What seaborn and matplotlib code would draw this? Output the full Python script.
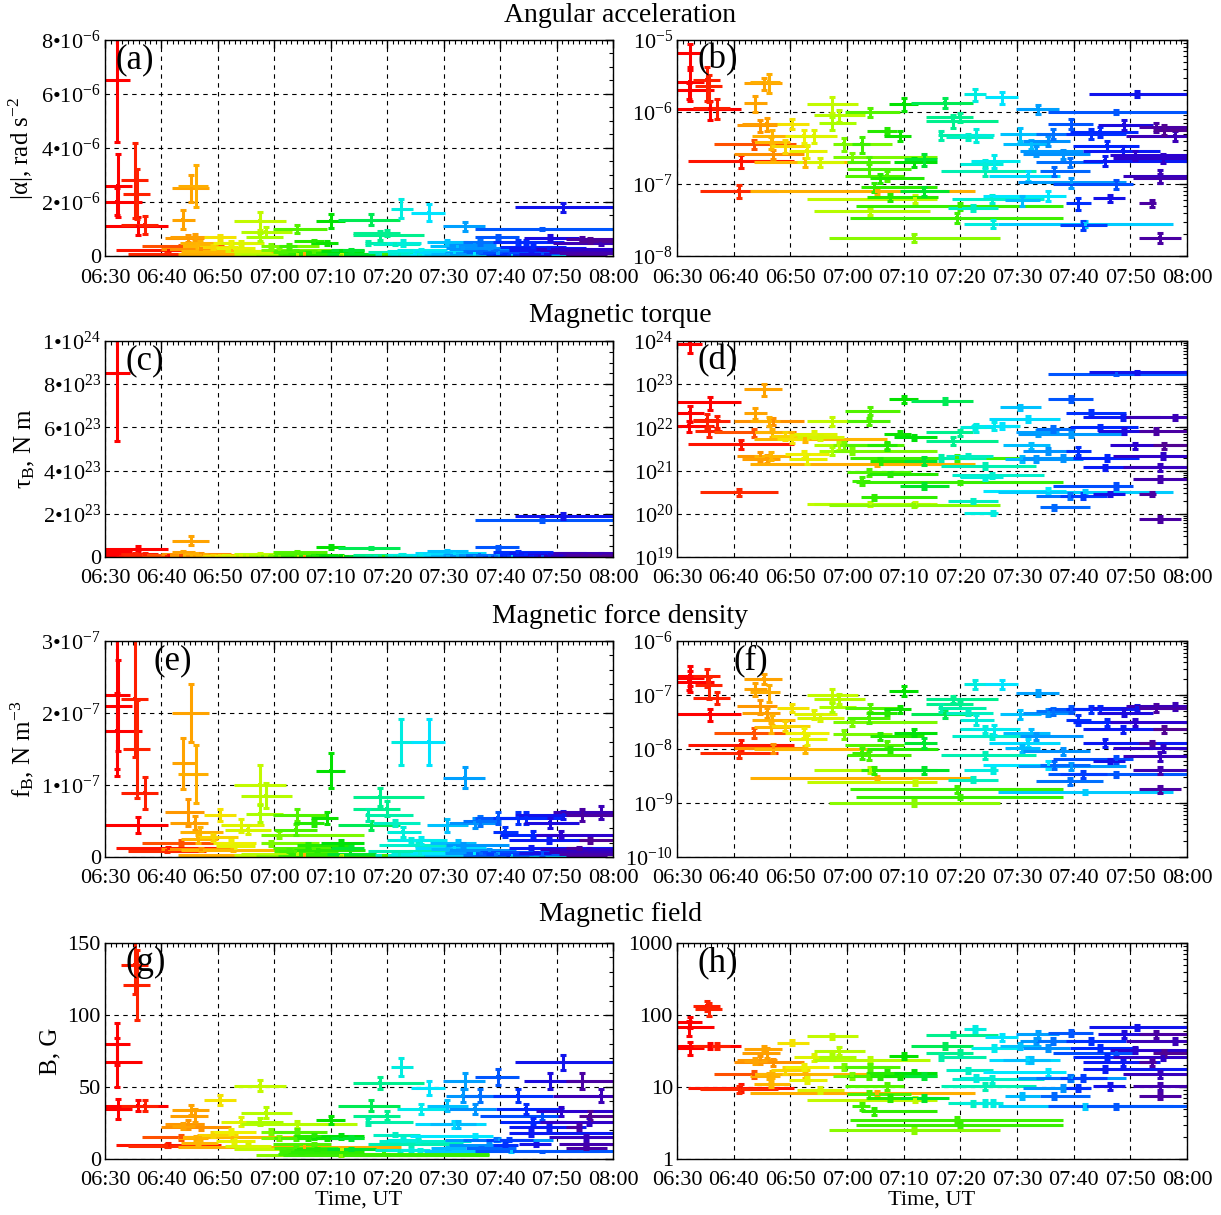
import numpy as np
import pandas as pd
import matplotlib
matplotlib.use("Agg")
import matplotlib.pyplot as plt
from matplotlib.colors import LinearSegmentedColormap
from matplotlib.ticker import (MultipleLocator, LogLocator, FuncFormatter,
                               NullFormatter, LogFormatterMathtext)
import seaborn as sns

# times in minutes after 06:30 UT: start / end of each interval and time of the estimate
t_start = [0, 0, 0, 0, 2.0, 2.9, 2.9, 3.2, 4.1, 6.5,
           10.0, 10.6, 11.5, 11.8, 11.8, 12.9, 12.9, 13.2, 13.5, 13.5,
           16.5, 17.6, 19.1, 19.7, 20.6, 21.2, 22.9, 22.9, 24.1, 24.1,
           25.0, 26.8, 27.6, 27.6, 29.7, 29.7, 30.0, 30.0, 30.6, 30.9,
           31.5, 32.4, 33.5, 33.5, 34.1, 36.5, 37.4, 38.2, 39.4, 40.0,
           41.2, 44.0, 44.0, 46.0, 46.6, 47.5, 47.8, 48.5, 49.9, 49.9,
           50.6, 50.6, 51.8, 54.0, 54.3, 55.0, 56.6, 57.0, 57.5, 57.8,
           59.9, 60.2, 60.5, 61.0, 61.0, 63.4, 63.4, 64.0, 65.5, 65.5,
           66.4, 67.5, 68.7, 68.7, 69.3, 69.9, 71.6, 71.6, 72.7, 73.4,
           74.3, 76.4, 77.0, 78.7, 79.3, 80.5, 81.6, 81.6, 81.6, 84.0]
t_end = [4.4, 4.7, 6.5, 11.2, 20.6, 7.6, 9.4, 7.9, 17.9, 21.0,
         22.4, 17.6, 18.2, 15.9, 18.5, 18.2, 52.5, 20.9, 20.0, 37.0,
         23.5, 23.2, 26.8, 26.5, 28.2, 29.4, 32.0, 45.9, 33.2, 44.7,
         31.5, 57.0, 37.9, 45.9, 39.4, 40.0, 37.6, 41.2, 68.1, 34.1,
         68.1, 45.9, 38.8, 46.0, 43.5, 41.2, 42.6, 45.9, 48.0, 45.9,
         52.2, 56.6, 52.2, 54.6, 63.4, 55.8, 56.6, 64.8, 56.0, 57.5,
         54.6, 56.6, 60.6, 68.7, 60.2, 67.5, 87.5, 64.3, 65.8, 64.0,
         67.4, 79.3, 71.6, 69.3, 72.8, 70.2, 75.2, 72.8, 90.0, 73.4,
         80.5, 75.8, 73.1, 79.3, 81.4, 81.6, 85.2, 90.0, 90.0, 79.0,
         84.0, 90.0, 90.0, 90.0, 90.0, 90.0, 90.0, 84.6, 89.0, 90.0]
t_peak = [2.2, 2.3, 2.1, 5.8, 11.2, 5.3, 7.1, 5.6, 10.9, 13.5,
          17.0, 14.7, 15.9, 13.8, 15.3, 16.2, 35.3, 16.8, 16.5, 22.6,
          19.1, 20.3, 22.4, 22.9, 24.1, 25.3, 27.4, 42.0, 28.5, 34.1,
          27.4, 41.8, 29.4, 30.9, 34.1, 37.0, 33.8, 33.8, 49.4, 32.6,
          49.9, 34.7, 37.0, 37.6, 35.9, 39.4, 40.0, 41.8, 43.5, 43.5,
          47.2, 48.7, 49.9, 46.6, 54.3, 51.4, 52.2, 55.5, 52.8, 54.3,
          52.5, 55.8, 56.0, 65.5, 57.4, 61.9, 72.0, 60.6, 62.5, 60.8,
          63.7, 69.6, 63.4, 65.5, 68.1, 66.4, 69.3, 66.6, 77.5, 69.6,
          77.5, 71.6, 70.8, 73.1, 74.6, 75.8, 78.7, 75.5, 81.2, 76.4,
          78.8, 80.8, 85.8, 85.2, 87.8, 85.2, 84.6, 83.9, 85.2, 85.9]

# |alpha|, rad s^-2
alpha = [6.5e-6, 2.6e-6, 2.0e-6, 1.1e-6, 2.1e-7, 2.8e-6, 1.15e-6, 2.3e-6, 8.1e-8, 3.6e-7,
         2.6e-7, 6.5e-7, 6.9e-7, 1.35e-6, 2.5e-6, 2.6e-6, 8.0e-8, 4.7e-7, 3.8e-7, 2.0e-7,
         3.4e-7, 6.9e-7, 4.7e-7, 2.9e-7, 4.7e-7, 2.0e-7, 1.3e-6, 6.2e-8, 9.0e-7, 4.2e-8,
         7.1e-7, 1.8e-8, 3.6e-7, 2.35e-7, 1.0e-6, 1.3e-7, 2.0e-7, 1.6e-7, 3.4e-8, 3.6e-7,
         4.9e-8, 9.0e-8, 5.5e-7, 6.5e-8, 1.2e-7, 4.7e-7, 1.3e-6, 2.0e-7, 8.0e-8, 2.2e-7,
         1.35e-6, 7.6e-7, 8.5e-7, 4.8e-7, 1.5e-7, 4.5e-7, 4.7e-8, 6.2e-8, 4.8e-7, 1.9e-7,
         1.75e-6, 2.8e-8, 2.1e-7, 6.9e-8, 1.6e-6, 1.3e-7, 2.8e-8, 5.0e-7, 3.6e-7, 5.9e-8,
         1.1e-6, 1.05e-7, 2.9e-7, 4.0e-7, 2.6e-7, 5.0e-7, 2.0e-7, 1.5e-7, 1.0e-6, 6.9e-7,
         1.0e-7, 2.7e-8, 5.4e-8, 5.0e-7, 5.3e-7, 3.4e-7, 2.9e-7, 2.1e-7, 1.8e-6, 6.3e-8,
         6.7e-7, 2.5e-7, 2.3e-7, 1.3e-7, 4.7e-7, 1.2e-7, 6.2e-7, 5.4e-8, 1.8e-8, 5.7e-7]
alpha_rel = [0.35, 0.45, 0.25, 0.3, 0.2, 0.5, 0.3, 0.4, 0.2, 0.15,
             0.15, 0.2, 0.2, 0.25, 0.2, 0.3, 0.1, 0.2, 0.2, 0.15,
             0.2, 0.15, 0.2, 0.2, 0.2, 0.15, 0.25, 0.12, 0.2, 0.12,
             0.2, 0.12, 0.2, 0.15, 0.15, 0.15, 0.2, 0.2, 0.15, 0.25,
             0.1, 0.15, 0.1, 0.12, 0.15, 0.15, 0.2, 0.15, 0.15, 0.2,
             0.15, 0.2, 0.15, 0.15, 0.15, 0.1, 0.1, 0.12, 0.2, 0.15,
             0.2, 0.12, 0.2, 0.15, 0.2, 0.15, 0.1, 0.2, 0.15, 0.15,
             0.15, 0.15, 0.15, 0.15, 0.15, 0.15, 0.15, 0.15, 0.05, 0.15,
             0.15, 0.15, 0.2, 0.15, 0.15, 0.15, 0.15, 0.15, 0.1, 0.1,
             0.15, 0.15, 0.15, 0.2, 0.15, 0.15, 0.15, 0.1, 0.15, 0.15]

# tau_B, N m
torque = [8.5e23, 2.2e22, 1.1e22, 3.8e22, 4.1e21, 1.5e22, 1.4e22, 8.4e21, 3.2e20, 7.6e21,
          1.4e22, 2.2e21, 1.9e21, 2.2e22, 7.6e22, 1.4e22, 1.4e21, 7.6e21, 2.2e21, 5.4e21,
          6.4e21, 5.4e21, 2.4e21, 1.9e21, 7.0e21, 5.9e21, 1.4e22, 1.7e20, 3.8e21, 1.7e20,
          2.9e21, 1.6e20, 3.8e21, 2.9e21, 2.4e22, 3.8e21, 1.4e22, 9.2e20, 2.0e21, 5.8e20,
          5.3e20, 2.4e20, 3.8e21, 8.4e20, 1.7e21, 7.0e21, 4.5e22, 5.9e21, 4.5e20, 1.7e21,
          4.1e22, 4.9e21, 7.6e21, 2.0e21, 1.3e21, 2.2e21, 2.0e20, 7.7e20, 1.0e22, 7.0e20,
          1.0e22, 1.05e20, 1.1e22, 3.4e20, 1.1e22, 1.6e22, 3.2e20, 2.9e22, 3.8e21, 1.9e21,
          7.6e21, 7.0e21, 1.9e21, 2.9e21, 2.0e21, 9.2e21, 2.6e20, 1.4e20, 1.7e23, 4.5e22,
          4.5e20, 2.6e20, 2.9e21, 2.2e22, 1.0e22, 2.0e21, 1.7e22, 1.2e21, 1.9e23, 2.9e20,
          8.4e21, 3.8e21, 2.2e21, 1.2e21, 1.7e22, 6.4e20, 8.4e21, 2.9e20, 7.7e19, 3.8e21]
torque_rel = [0.37, 0.4, 0.3, 0.35, 0.25, 0.35, 0.3, 0.3, 0.2, 0.2,
              0.2, 0.25, 0.2, 0.3, 0.3, 0.25, 0.1, 0.2, 0.2, 0.15,
              0.2, 0.2, 0.2, 0.25, 0.2, 0.15, 0.25, 0.12, 0.2, 0.12,
              0.2, 0.12, 0.2, 0.15, 0.2, 0.15, 0.2, 0.2, 0.15, 0.2,
              0.1, 0.15, 0.2, 0.12, 0.15, 0.15, 0.2, 0.15, 0.15, 0.2,
              0.15, 0.2, 0.15, 0.15, 0.15, 0.1, 0.1, 0.12, 0.2, 0.15,
              0.15, 0.12, 0.2, 0.15, 0.15, 0.15, 0.1, 0.15, 0.15, 0.15,
              0.15, 0.15, 0.15, 0.15, 0.15, 0.15, 0.15, 0.15, 0.05, 0.15,
              0.15, 0.15, 0.2, 0.15, 0.15, 0.15, 0.15, 0.15, 0.08, 0.1,
              0.15, 0.15, 0.15, 0.2, 0.15, 0.15, 0.15, 0.1, 0.15, 0.15]

# f_B, N m^-3
force = [2.25e-7, 2.1e-7, 1.75e-7, 4.4e-8, 1.2e-8, 2.2e-7, 8.9e-8, 1.5e-7, 8.5e-9, 2.0e-8,
         1.05e-8, 6.2e-8, 4.7e-8, 1.3e-7, 2.0e-7, 1.15e-7, 2.9e-9, 3.5e-8, 2.5e-8, 9.8e-9,
         2.7e-8, 5.8e-8, 2.0e-8, 1.5e-8, 4.4e-8, 3.8e-8, 1.0e-7, 2.4e-9, 8.5e-8, 4.1e-9,
         6.0e-8, 1.0e-9, 1.9e-8, 3.1e-8, 5.8e-8, 1.2e-8, 3.8e-8, 7.7e-9, 1.8e-9, 8.5e-9,
         1.3e-9, 4.1e-9, 4.7e-8, 9.8e-9, 1.7e-8, 5.4e-8, 1.2e-7, 2.0e-8, 4.1e-9, 1.3e-8,
         4.4e-8, 8.3e-8, 6.7e-8, 5.8e-8, 7.7e-9, 4.7e-8, 2.7e-9, 1.7e-8, 3.5e-8, 2.3e-8,
         1.6e-7, 4.1e-9, 2.3e-8, 5.1e-9, 1.6e-7, 1.3e-8, 1.6e-9, 4.4e-8, 2.0e-8, 1.05e-8,
         1.1e-7, 4.8e-9, 1.7e-8, 4.7e-8, 9.1e-9, 5.0e-8, 2.5e-9, 5.1e-9, 3.4e-9, 5.4e-8,
         6.4e-9, 3.4e-9, 3.5e-8, 5.4e-8, 5.4e-8, 3.1e-8, 2.3e-8, 1.3e-8, 5.8e-8, 6.0e-9,
         4.7e-8, 3.1e-8, 1.05e-8, 7.4e-9, 6.2e-8, 4.1e-9, 5.8e-8, 1.3e-8, 1.8e-9, 2.3e-8]
force_rel = [0.5, 0.3, 0.3, 0.25, 0.2, 0.37, 0.25, 0.45, 0.2, 0.2,
             0.2, 0.3, 0.2, 0.27, 0.2, 0.35, 0.1, 0.2, 0.2, 0.15,
             0.2, 0.15, 0.2, 0.2, 0.2, 0.15, 0.27, 0.12, 0.2, 0.12,
             0.2, 0.12, 0.2, 0.15, 0.15, 0.15, 0.2, 0.2, 0.15, 0.25,
             0.1, 0.15, 0.1, 0.12, 0.15, 0.15, 0.2, 0.15, 0.15, 0.2,
             0.15, 0.15, 0.15, 0.15, 0.15, 0.1, 0.1, 0.12, 0.2, 0.15,
             0.2, 0.12, 0.2, 0.15, 0.2, 0.15, 0.1, 0.2, 0.15, 0.15,
             0.13, 0.15, 0.15, 0.15, 0.15, 0.15, 0.15, 0.15, 0.1, 0.15,
             0.15, 0.15, 0.2, 0.15, 0.15, 0.15, 0.15, 0.15, 0.1, 0.1,
             0.15, 0.15, 0.15, 0.2, 0.15, 0.15, 0.15, 0.1, 0.15, 0.15]

# B, G
field = [80, 35, 67, 37, 9.8, 135, 37, 121, 9.3, 15,
         22, 24, 30, 23, 34, 14.3, 8.2, 15, 11, 15,
         17, 41, 19, 12.6, 26, 9.2, 51, 6.7, 32, 24,
         26, 2.5, 19, 14.3, 19, 10.2, 14.3, 7.9, 3.5, 5.4,
         3.0, 4.6, 15.8, 7.1, 14.3, 14.3, 27, 15.8, 7.1, 14.3,
         37, 53, 30, 26, 10.2, 17, 6.0, 12.8, 13.5, 6.0,
         64, 6.0, 35, 16, 49, 24, 5.4, 37, 24, 7.5,
         54, 13.5, 44, 35, 9.8, 44, 13.5, 7.5, 5.4, 57,
         30, 13.5, 9.8, 44, 35, 26, 22, 18, 67, 10.2,
         54, 33, 26, 15, 44, 10.2, 54, 22, 7.5, 30]
field_rel = [0.18, 0.2, 0.25, 0.1, 0.12, 0.15, 0.1, 0.2, 0.1, 0.1,
             0.1, 0.12, 0.15, 0.1, 0.1, 0.1, 0.08, 0.1, 0.1, 0.1,
             0.1, 0.08, 0.1, 0.1, 0.12, 0.1, 0.08, 0.08, 0.12, 0.1,
             0.1, 0.08, 0.1, 0.1, 0.1, 0.1, 0.1, 0.1, 0.08, 0.1,
             0.08, 0.1, 0.1, 0.1, 0.1, 0.1, 0.1, 0.1, 0.1, 0.1,
             0.1, 0.08, 0.1, 0.1, 0.1, 0.08, 0.08, 0.1, 0.1, 0.1,
             0.1, 0.1, 0.1, 0.1, 0.1, 0.1, 0.08, 0.1, 0.1, 0.1,
             0.1, 0.1, 0.1, 0.1, 0.1, 0.1, 0.1, 0.1, 0.08, 0.1,
             0.1, 0.1, 0.1, 0.1, 0.1, 0.1, 0.1, 0.1, 0.08, 0.1,
             0.1, 0.1, 0.1, 0.1, 0.1, 0.1, 0.1, 0.1, 0.1, 0.1]

row_titles = ["Angular acceleration", "Magnetic torque",
              "Magnetic force density", "Magnetic field"]
row_ylabels = ["|α|, rad s$^{-2}$", "τ$_{\\rm B}$, N m",
               "f$_{\\rm B}$, N m$^{-3}$", "B, G"]
panel_tags = [("(a)", "(b)"), ("(c)", "(d)"), ("(e)", "(f)"), ("(g)", "(h)")]


def sci_label(v, pos):
    if abs(v) < 1e-40:
        return "0"
    e = int(np.floor(np.log10(abs(v)) + 1e-9))
    m = v / 10.0 ** e
    return f"{m:g}•10$^{{{e}}}$"


def hhmm(v, pos):
    m = int(round(v)) + 6 * 60 + 30
    return f"{m // 60:02d}:{m % 60:02d}"


def plain_label(v, pos):
    return f"{v:g}"


rainbow = LinearSegmentedColormap.from_list("time_rainbow", [
    (0.00, "#ff0000"), (0.05, "#ff3000"), (0.11, "#ff9000"), (0.16, "#ffc000"),
    (0.21, "#f0f000"), (0.28, "#a8ff00"), (0.34, "#40f000"), (0.42, "#00e000"),
    (0.48, "#00f080"), (0.54, "#00f0d0"), (0.60, "#00e8ff"), (0.66, "#00a8ff"),
    (0.72, "#0060ff"), (0.78, "#0020ff"), (0.85, "#2a00d0"), (0.92, "#50009a"),
    (1.00, "#581068")])
colors = rainbow(np.asarray(t_start) / 90.0)

sns.set_theme(style="white")
plt.rcParams.update({
    "font.family": ["Liberation Serif", "DejaVu Serif"],
    "mathtext.fontset": "custom",
    "mathtext.rm": "Liberation Serif",
    "mathtext.it": "Liberation Serif:italic",
    "mathtext.bf": "Liberation Serif:bold",
    "mathtext.default": "regular",
    "axes.edgecolor": "black",
    "axes.linewidth": 1.0,
    "text.color": "black",
    "axes.labelcolor": "black",
    "xtick.color": "black",
    "ytick.color": "black",
})


def draw_bars(ax, val, rel):
    val = np.asarray(val, float)
    err = val * np.asarray(rel, float)
    lo, hi = val - err, val + err
    for i in range(len(val)):
        c = colors[i]
        ax.plot([t_start[i], t_end[i]], [val[i], val[i]], color=c, lw=2.2,
                solid_capstyle="butt")
        ax.plot([t_peak[i], t_peak[i]], [lo[i], hi[i]], color=c, lw=2.2,
                solid_capstyle="butt", marker="_", ms=4.5, mew=2.2)
    df = pd.DataFrame({"t": t_peak, "v": val, "start": t_start})
    sns.scatterplot(data=df, x="t", y="v", hue="start", palette=rainbow,
                    hue_norm=(0, 90), marker="s", s=6, linewidth=0,
                    legend=False, ax=ax, zorder=2.5)


def style_axis(ax):
    ax.set_xlim(0, 90)
    ax.xaxis.set_major_locator(MultipleLocator(10))
    ax.xaxis.set_minor_locator(MultipleLocator(1))
    ax.xaxis.set_major_formatter(FuncFormatter(hhmm))
    ax.tick_params(which="both", direction="in", top=True, right=True,
                   colors="black")
    ax.tick_params(which="major", length=6, width=1.0, labelsize=16)
    ax.tick_params(which="minor", length=3, width=0.8)
    ax.tick_params(axis="x", which="major", pad=9)
    ax.tick_params(axis="y", which="major", pad=3)
    ax.grid(True, which="major", color="black", ls=(0, (4, 4)), lw=0.8)
    ax.set_xlabel("")
    for s in ax.spines.values():
        s.set_color("black")
        s.set_linewidth(1.0)


fig = plt.figure(figsize=(12.21, 12.15), dpi=100)

left_x, left_w = 0.086, 0.416
right_x, right_w = 0.5545, 0.4177
bottoms = [0.7893, 0.5416, 0.2947, 0.0461]
height = 0.1778
title_y = [0.987, 0.740, 0.493, 0.247]

rows = [(alpha, alpha_rel, (0, 8e-6), 2e-6, 0.5e-6, (1e-8, 1e-5)),
        (torque, torque_rel, (0, 1e24), 2e23, 0.5e23, (1e19, 1e24)),
        (force, force_rel, (0, 3e-7), 1e-7, 2e-8, (1e-10, 1e-6)),
        (field, field_rel, (0, 150), 50, 10, (1, 1000))]
tag_x = [(0.02, 0.04), (0.04, 0.04), (0.095, 0.11), (0.04, 0.04)]

for r, (val, rel, lin_lim, major, minor, log_lim) in enumerate(rows):
    ax_l = fig.add_axes([left_x, bottoms[r], left_w, height])
    ax_r = fig.add_axes([right_x, bottoms[r], right_w, height])

    draw_bars(ax_l, val, rel)
    ax_l.set_ylim(*lin_lim)
    ax_l.yaxis.set_major_locator(MultipleLocator(major))
    ax_l.yaxis.set_minor_locator(MultipleLocator(minor))
    ax_l.yaxis.set_major_formatter(FuncFormatter(plain_label if r == 3 else sci_label))
    style_axis(ax_l)
    ax_l.set_ylabel(row_ylabels[r], fontsize=18, labelpad=4)

    ax_r.set_yscale("log")
    draw_bars(ax_r, val, rel)
    ax_r.set_ylim(*log_lim)
    ax_r.yaxis.set_major_locator(LogLocator(base=10, numticks=20))
    ax_r.yaxis.set_minor_locator(LogLocator(base=10, subs=np.arange(2, 10), numticks=20))
    ax_r.yaxis.set_minor_formatter(NullFormatter())
    ax_r.yaxis.set_major_formatter(FuncFormatter(plain_label) if r == 3
                                   else LogFormatterMathtext())
    style_axis(ax_r)
    ax_r.set_ylabel("")

    ax_l.text(tag_x[r][0], 0.985, panel_tags[r][0], transform=ax_l.transAxes,
              ha="left", va="top", fontsize=25, zorder=10)
    ax_r.text(tag_x[r][1], 0.985, panel_tags[r][1], transform=ax_r.transAxes,
              ha="left", va="top", fontsize=25, zorder=10)

    fig.text(0.508, title_y[r], row_titles[r], ha="center", va="center", fontsize=20)

    if r == 3:
        ax_l.set_xlabel("Time, UT", fontsize=16, labelpad=0)
        ax_r.set_xlabel("Time, UT", fontsize=16, labelpad=0)

fig.savefig("out.png", dpi=100)
